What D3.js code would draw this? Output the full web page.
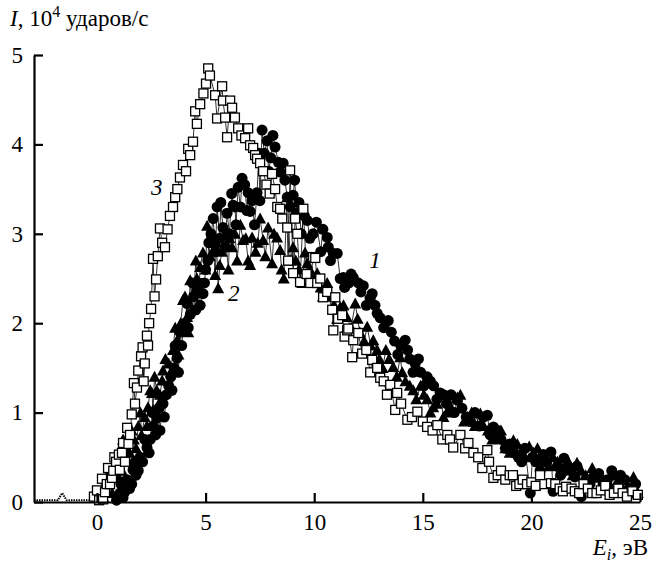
<!DOCTYPE html>
<html>
<head>
<meta charset="utf-8">
<script src="https://cdn.jsdelivr.net/npm/d3@7"></script>
<style>
  body { margin: 0; background: #fff; font-family: "Times New Roman"; }
</style>
</head>
<body>
<div id="chart"></div>
<script>
// series 1 (filled circles): [E, I]
const series1 = [
  [0.9,0.02],[1.06,0.1],[1.1,0.2],[1.2,0.05],[1.3,0.12],[1.38,0.25],[1.5,0.15],[1.6,0.2],[1.66,0.36],[1.75,0.45],
  [1.8,0.3],[1.9,0.35],[1.98,0.5],[2.1,0.45],[2.2,0.7],[2.3,0.61],[2.4,0.55],[2.45,0.7],[2.55,1.0],[2.6,0.85],
  [2.7,0.75],[2.76,0.94],[2.85,1.05],[2.9,0.8],[3.04,1.1],[3.1,0.95],[3.2,1.2],[3.3,1.3],[3.4,1.4],[3.45,1.25],
  [3.55,1.5],[3.6,1.75],[3.69,1.61],[3.75,1.45],[3.82,1.9],[3.9,1.75],[3.96,1.92],[4.05,2.0],[4.15,2.22],[4.2,1.95],
  [4.3,2.1],[4.4,2.45],[4.45,2.3],[4.55,2.15],[4.6,2.37],[4.7,2.45],[4.75,2.2],[4.88,2.33],[4.95,2.45],[5.0,2.6],
  [5.1,2.7],[5.15,2.9],[5.25,3.0],[5.35,3.17],[5.45,2.8],[5.53,3.3],[5.65,2.95],[5.7,3.35],[5.8,3.07],[5.9,2.85],
  [5.99,3.23],[6.1,3.0],[6.2,3.45],[6.27,3.32],[6.35,3.3],[6.4,3.1],[6.5,3.52],[6.6,3.3],[6.68,3.62],[6.8,3.55],
  [6.9,3.26],[6.96,3.46],[7.05,3.25],[7.14,3.37],[7.25,3.1],[7.37,3.46],[7.45,3.9],[7.5,3.37],[7.6,4.16],[7.7,3.9],
  [7.83,4.04],[7.9,3.7],[8.0,3.85],[8.1,4.1],[8.2,3.97],[8.35,3.8],[8.43,3.69],[8.57,3.79],[8.65,3.6],[8.76,3.41],
  [8.9,3.3],[9.03,3.43],[9.1,3.6],[9.2,3.23],[9.3,3.35],[9.4,3.0],[9.55,3.2],[9.68,3.15],[9.8,2.95],[9.95,3.0],
  [10.1,3.13],[10.3,2.8],[10.4,3.05],[10.6,2.96],[10.65,2.85],[10.75,2.7],[10.88,2.78],[11.06,2.78],[11.2,2.5],
  [11.34,2.51],[11.4,2.4],[11.6,2.45],[11.7,2.55],[11.8,2.51],[12.03,2.45],[12.15,2.35],[12.26,2.42],[12.4,2.2],
  [12.58,2.28],[12.67,2.33],[12.8,2.2],[12.9,2.11],[13.04,2.06],[13.2,1.95],[13.41,2.03],[13.55,1.9],[13.7,1.8],
  [13.85,1.65],[14.0,1.75],[14.19,1.81],[14.3,1.7],[14.4,1.6],[14.55,1.45],[14.65,1.55],[14.8,1.6],[14.9,1.45],
  [15.05,1.3],[15.2,1.4],[15.35,1.35],[15.5,1.3],[15.65,1.15],[15.8,1.22],[15.95,1.2],[16.1,1.1],[16.3,1.2],
  [16.45,1.0],[16.59,1.14],[16.8,1.05],[17.0,0.95],[17.2,0.9],[17.4,1.0],[17.6,0.85],[17.79,0.95],[17.97,0.97],
  [18.1,0.75],[18.25,0.84],[18.45,0.8],[18.6,0.7],[18.8,0.6],[19.0,0.65],[19.2,0.55],[19.4,0.5],[19.55,0.45],
  [19.7,0.6],[19.95,0.1],[20.05,0.5],[20.2,0.45],[20.4,0.35],[20.55,0.53],[20.7,0.45],[20.9,0.56],[21.0,0.12],
  [21.2,0.4],[21.35,0.3],[21.5,0.49],[21.65,0.38],[21.8,0.35],[22.0,0.28],[22.1,0.4],[22.3,0.06],[22.5,0.25],
  [22.7,0.2],[22.9,0.3],[23.1,0.32],[23.3,0.2],[23.5,0.25],[23.7,0.35],[23.9,0.12],[24.1,0.3],[24.3,0.25],
  [24.5,0.15],[24.6,0.1],[24.8,0.2]
];

// series 2 (filled triangles)
const series2 = [
  [0.3,0.05],[0.5,0.2],[0.6,0.35],[0.7,0.1],[0.85,0.4],[0.95,0.3],[1.0,0.5],[1.15,0.35],[1.2,0.7],[1.3,0.6],
  [1.4,0.45],[1.5,0.55],[1.6,0.8],[1.7,0.7],[1.8,0.6],[1.9,0.85],[2.0,1.0],[2.05,0.75],[2.2,0.95],[2.3,0.85],
  [2.35,1.06],[2.45,1.25],[2.53,1.22],[2.58,1.03],[2.65,1.4],[2.75,1.25],[2.85,1.1],[2.9,1.2],[3.0,1.36],
  [3.04,1.47],[3.15,1.6],[3.3,1.55],[3.4,1.45],[3.5,1.7],[3.6,1.95],[3.69,1.81],[3.75,1.65],[3.85,2.0],
  [3.96,2.26],[4.05,2.3],[4.15,2.07],[4.2,1.9],[4.29,2.48],[4.4,2.15],[4.45,2.3],[4.55,2.7],[4.6,2.5],[4.7,2.4],
  [4.75,2.63],[4.88,2.79],[5.0,2.6],[5.07,3.09],[5.2,2.75],[5.35,2.9],[5.44,2.54],[5.5,2.9],[5.58,2.39],
  [5.65,2.65],[5.75,2.8],[5.9,3.0],[6.05,2.6],[6.1,2.95],[6.22,2.85],[6.35,3.0],[6.45,2.7],[6.6,3.1],[6.73,2.93],
  [6.85,2.95],[6.96,2.7],[7.05,2.65],[7.14,2.96],[7.3,2.8],[7.4,2.9],[7.51,3.17],[7.65,2.93],[7.75,2.75],
  [7.88,3.07],[8.06,2.67],[8.15,3.0],[8.29,2.96],[8.43,2.82],[8.5,2.6],[8.6,2.5],[8.76,3.41],[8.9,2.7],
  [9.03,2.85],[9.15,2.7],[9.3,2.6],[9.45,2.45],[9.58,2.79],[9.68,2.67],[9.8,2.6],[9.9,2.5],[10.14,2.56],
  [10.3,2.4],[10.4,2.3],[10.6,2.45],[10.75,2.3],[10.9,2.2],[11.05,2.05],[11.2,2.18],[11.35,2.2],[11.5,2.07],
  [11.7,1.95],[11.89,2.22],[12.0,2.05],[12.1,1.9],[12.3,1.8],[12.44,1.96],[12.6,1.75],[12.72,1.81],[12.9,1.7],
  [13.0,1.6],[13.15,1.5],[13.3,1.7],[13.45,1.6],[13.64,1.51],[13.8,1.4],[13.96,1.62],[14.05,1.45],[14.2,1.35],
  [14.4,1.3],[14.56,1.25],[14.7,1.15],[14.9,1.3],[15.05,1.2],[15.2,1.15],[15.35,1.0],[15.48,1.06],[15.65,1.1],
  [15.8,1.2],[15.95,0.95],[16.1,1.0],[16.3,1.05],[16.59,1.17],[16.73,1.2],[16.9,0.9],[17.05,0.95],[17.25,1.0],
  [17.4,0.85],[17.65,0.99],[17.8,0.85],[18.0,0.8],[18.2,0.7],[18.4,0.75],[18.6,0.8],[18.8,0.6],[19.0,0.55],
  [19.17,0.69],[19.35,0.65],[19.5,0.55],[19.7,0.5],[19.9,0.62],[20.1,0.55],[20.28,0.6],[20.45,0.5],[20.6,0.45],
  [20.8,0.4],[21.0,0.5],[21.2,0.45],[21.4,0.35],[21.55,0.4],[21.7,0.45],[21.9,0.3],[22.1,0.44],[22.3,0.35],
  [22.5,0.3],[22.65,0.25],[22.8,0.38],[23.0,0.27],[23.2,0.3],[23.4,0.2],[23.6,0.2],[23.8,0.3],[24.0,0.25],
  [24.2,0.15],[24.45,0.18],[24.7,0.28],[24.9,0.1]
];

// series 3 (open squares)
const series3 = [
  [-0.14,0.06],[0.0,0.13],[0.1,0.02],[0.23,0.26],[0.28,0.03],[0.37,0.11],[0.45,0.2],[0.51,0.38],[0.6,0.2],
  [0.69,0.27],[0.75,0.35],[0.8,0.5],[0.88,0.45],[1.01,0.53],[1.05,0.36],[1.15,0.55],[1.2,0.66],[1.29,0.45],
  [1.39,0.83],[1.45,0.65],[1.52,0.75],[1.6,0.98],[1.7,1.33],[1.75,1.1],[1.84,1.28],[1.9,1.47],[2.03,1.63],
  [2.1,1.73],[2.15,1.35],[2.2,1.55],[2.3,1.86],[2.35,1.75],[2.4,2.0],[2.49,2.16],[2.58,2.72],[2.65,2.3],
  [2.72,2.49],[2.8,2.75],[2.9,3.06],[3.0,2.9],[3.13,2.85],[3.25,3.05],[3.36,3.2],[3.5,3.3],[3.6,3.41],
  [3.7,3.5],[3.82,3.63],[3.96,3.77],[4.1,3.7],[4.2,3.95],[4.29,3.88],[4.42,4.03],[4.52,4.37],[4.6,4.23],
  [4.75,4.45],[4.9,4.57],[5.02,4.68],[5.12,4.85],[5.2,4.77],[5.44,4.55],[5.53,4.29],[5.76,4.65],[5.8,4.49],
  [5.9,4.3],[5.99,4.08],[6.13,4.49],[6.22,4.41],[6.35,4.3],[6.5,4.18],[6.65,4.1],[6.82,4.07],[6.96,4.18],
  [7.05,3.99],[7.19,3.96],[7.28,3.88],[7.37,3.84],[7.51,3.79],[7.65,3.7],[7.8,3.55],[7.95,3.45],[8.06,3.67],
  [8.2,3.5],[8.3,3.3],[8.43,3.28],[8.53,3.17],[8.76,3.07],[8.8,2.7],[8.89,3.71],[9.03,2.56],[9.12,3.17],
  [9.22,3.0],[9.35,2.46],[9.5,3.28],[9.65,2.55],[9.82,2.45],[9.95,2.74],[10.05,2.73],[10.14,2.45],[10.28,2.5],
  [10.41,2.29],[10.6,2.35],[10.83,2.15],[10.88,1.92],[10.97,2.29],[11.1,2.05],[11.29,2.09],[11.4,1.85],
  [11.52,1.92],[11.57,1.94],[11.75,1.62],[11.8,1.81],[12.03,1.89],[12.21,1.66],[12.4,1.7],[12.58,1.45],
  [12.67,1.59],[12.9,1.5],[13.04,1.39],[13.2,1.35],[13.35,1.2],[13.5,1.31],[13.73,1.03],[13.82,1.22],
  [14.0,1.1],[14.29,0.92],[14.5,0.95],[14.75,1.01],[15.0,0.9],[15.2,0.84],[15.45,0.8],[15.67,0.86],[15.9,0.7],
  [16.13,0.75],[16.25,0.7],[16.4,0.61],[16.73,0.75],[16.95,0.6],[17.1,0.66],[17.33,0.55],[17.55,0.5],
  [17.74,0.38],[17.97,0.58],[18.05,0.45],[18.25,0.27],[18.45,0.3],[18.6,0.35],[18.8,0.25],[19.0,0.3],
  [19.15,0.3],[19.3,0.18],[19.45,0.2],[19.6,0.25],[19.8,0.2],[20.0,0.22],[20.2,0.18],[20.4,0.3],[20.6,0.2],
  [20.9,0.21],[21.1,0.2],[21.3,0.15],[21.45,0.12],[21.6,0.17],[21.85,0.15],[22.0,0.12],[22.2,0.1],[22.4,0.2],
  [22.6,0.15],[22.8,0.1],[23.0,0.1],[23.2,0.13],[23.4,0.18],[23.6,0.08],[23.8,0.1],[24.0,0.15],[24.2,0.1],
  [24.4,0.06],[24.65,0.12],[24.9,0.08]
];

// flat background level before the onset
const baseline = [[-2.9,0.02],[-1.8,0.02],[-1.6,0.1],[-1.4,0.02],[-0.3,0.02]];

const xTicks = [0, 5, 10, 15, 20, 25];
const yTicks = [0, 1, 2, 3, 4, 5];
const curveLabels = [
  { text: "1", E: 12.8, I: 2.62 },
  { text: "2", E: 6.3, I: 2.25 },
  { text: "3", E: 2.75, I: 3.43 }
];

const FONT = "Times New Roman";
const W = 653, H = 563;
const svg = d3.select("#chart").append("svg")
  .attr("width", W).attr("height", H);

const x = d3.scaleLinear().domain([-2.9, 25]).range([34, 640]);
const y = d3.scaleLinear().domain([0, 5]).range([502, 55]);

const line = d3.line().x(d => x(d[0])).y(d => y(d[1]));

// thin connecting lines
svg.append("path").datum(baseline)
  .attr("d", line).attr("fill", "none").attr("stroke", "#000")
  .attr("stroke-width", 2).attr("stroke-dasharray", "1.5,1");

[series1, series2, series3].forEach(s => {
  svg.append("path").datum(s)
    .attr("d", line).attr("fill", "none")
    .attr("stroke", "#000").attr("stroke-width", 0.8);
});

// circles
svg.append("g").selectAll("circle")
  .data(series1).join("circle")
  .attr("cx", d => x(d[0])).attr("cy", d => y(d[1]))
  .attr("r", 5.5).attr("fill", "#000");

// triangles
svg.append("g").selectAll("path")
  .data(series2).join("path")
  .attr("transform", d => `translate(${x(d[0])},${y(d[1])})`)
  .attr("d", "M0,-6L6,5L-6,5Z")
  .attr("fill", "#000");

// open squares
svg.append("g").selectAll("rect")
  .data(series3).join("rect")
  .attr("x", d => x(d[0]) - 4.5).attr("y", d => y(d[1]) - 4.5)
  .attr("width", 9).attr("height", 9)
  .attr("fill", "#fff").attr("stroke", "#000").attr("stroke-width", 1.3);

// axes
const xAxis = svg.append("g")
  .attr("transform", "translate(0,502)")
  .call(d3.axisBottom(x).tickValues(xTicks).tickSizeInner(-9).tickSizeOuter(0).tickPadding(12).tickFormat(d3.format("d")));
const yAxis = svg.append("g")
  .attr("transform", "translate(34,0)")
  .call(d3.axisLeft(y).tickValues(yTicks).tickSizeInner(-9).tickSizeOuter(0).tickPadding(11).tickFormat(d3.format("d")));

[xAxis, yAxis].forEach(a => {
  a.attr("font-family", null).attr("font-size", null);
  a.select(".domain").attr("stroke", "#000").attr("stroke-width", 2.2);
  a.selectAll(".tick line").attr("stroke", "#000").attr("stroke-width", 2.2);
  a.selectAll("text").style("font-family", `"${FONT}"`).style("font-size", "23px").attr("fill", "#000");
});
xAxis.selectAll("text").attr("dy", "0.71em");

// curve labels
svg.selectAll(".curve-label")
  .data(curveLabels).join("text")
  .attr("class", "curve-label")
  .attr("x", d => x(d.E)).attr("y", d => y(d.I))
  .attr("text-anchor", "middle")
  .style("font-family", `"${FONT}"`)
  .style("font-size", "23px").style("font-style", "italic")
  .text(d => d.text);

// axis titles
const yt = svg.append("text").attr("x", 10).attr("y", 26)
  .style("font-family", `"${FONT}"`).style("font-size", "23px");
yt.append("tspan").style("font-style", "italic").text("I");
yt.append("tspan").text(", 10");
yt.append("tspan").attr("dy", -9).style("font-size", "16px").text("4");
yt.append("tspan").attr("dy", 9).text(" ударов/с");

const xt = svg.append("text").attr("x", 648).attr("y", 555)
  .attr("text-anchor", "end")
  .style("font-family", `"${FONT}"`).style("font-size", "23px");
xt.append("tspan").style("font-style", "italic").text("E");
xt.append("tspan").attr("dy", 5).style("font-size", "16px").style("font-style", "italic").text("i");
xt.append("tspan").attr("dy", -5).text(", эВ");
</script>
</body>
</html>
